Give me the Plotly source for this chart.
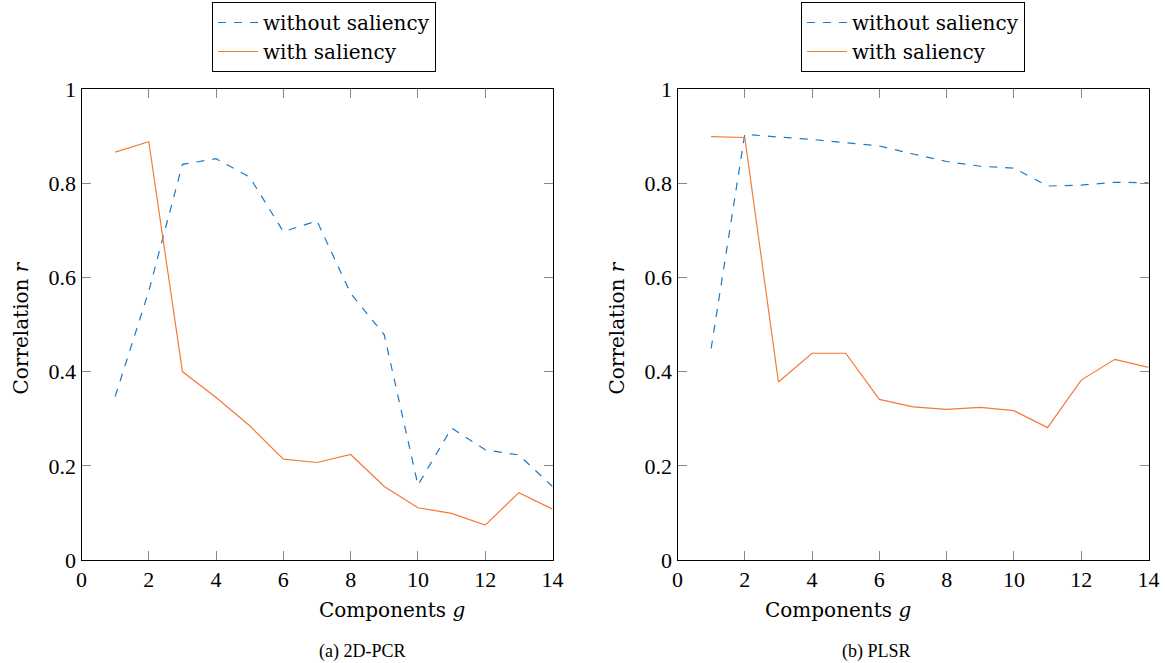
import plotly.graph_objects as go

components = list(range(1, 15))

pcr_without = [0.347, 0.571, 0.840, 0.852, 0.813, 0.697, 0.720, 0.566, 0.478, 0.159, 0.280, 0.234, 0.223, 0.156]
pcr_with = [0.866, 0.888, 0.400, 0.345, 0.285, 0.214, 0.207, 0.224, 0.156, 0.111, 0.099, 0.074, 0.143, 0.108]

plsr_without = [0.449, 0.904, 0.898, 0.893, 0.886, 0.879, 0.862, 0.846, 0.836, 0.832, 0.794, 0.796, 0.802, 0.801]
plsr_with = [0.899, 0.897, 0.378, 0.439, 0.439, 0.341, 0.325, 0.320, 0.324, 0.317, 0.281, 0.382, 0.426, 0.409]

x_ticks = [0, 2, 4, 6, 8, 10, 12, 14]
y_ticks = [0, 0.2, 0.4, 0.6, 0.8, 1]
y_ticklabels = ["0", "0.2", "0.4", "0.6", "0.8", "1"]
captions = ["(a) 2D-PCR", "(b) PLSR"]
x_title = "Components <i>g</i>"
y_title = "Correlation <i>r</i>"

BLUE = "#1f78c1"
ORANGE = "#f47a35"
FONT = "Times New Roman"
FONT_WIDE = "DejaVu Serif"

fig = go.Figure()

panels = [
    (pcr_without, pcr_with, "x", "y", "legend"),
    (plsr_without, plsr_with, "x2", "y2", "legend2"),
]
for wo, wi, xa, ya, lg in panels:
    fig.add_trace(go.Scatter(x=components, y=wo, mode="lines", name="without saliency",
                             line=dict(color=BLUE, width=1.2, dash="8px,8px"),
                             xaxis=xa, yaxis=ya, legend=lg))
    fig.add_trace(go.Scatter(x=components, y=wi, mode="lines", name="with saliency",
                             line=dict(color=ORANGE, width=1.2),
                             xaxis=xa, yaxis=ya, legend=lg))

W, H = 1165, 663
dom_left = [81.5 / W, 552.5 / W]
dom_right = [677.5 / W, 1148.5 / W]
dom_y = [1 - 560 / H, 1 - 89 / H]

axis_common = dict(
    showline=True, linecolor="black", linewidth=1, mirror="ticks",
    ticks="inside", ticklen=9, tickcolor="#888888", tickwidth=1,
    showgrid=False, zeroline=False, automargin=False,
    tickfont=dict(family=FONT, size=22, color="black"),
)

xaxis_common = dict(axis_common, range=[0, 14], tickvals=x_ticks)
yaxis_common = dict(axis_common, range=[0, 1], tickvals=y_ticks, ticktext=y_ticklabels)

legend_common = dict(
    bgcolor="white", bordercolor="black", borderwidth=1,
    font=dict(family=FONT_WIDE, size=20, color="black"),
    xanchor="center", yanchor="top", y=1 - 2 / H, yref="paper", xref="paper",
    itemwidth=40, tracegroupgap=0,
)

title_font = dict(family=FONT_WIDE, size=20, color="black")
cap_font = dict(family=FONT, size=18, color="black")

annotations = []
for dom, cap in [(dom_left, captions[0]), (dom_right, captions[1])]:
    cx = (dom[0] + dom[1]) / 2
    annotations.append(dict(text=x_title, x=cx, y=1 - 610 / H, xref="paper", yref="paper",
                            showarrow=False, font=title_font, yanchor="middle"))
    annotations.append(dict(text=cap, x=cx, y=1 - 651 / H, xref="paper", yref="paper",
                            showarrow=False, font=cap_font, yanchor="middle"))
    annotations.append(dict(text=y_title, x=dom[0] - 61 / W, y=1 - 328 / H, xref="paper", yref="paper",
                            showarrow=False, font=title_font, textangle=-90,
                            xanchor="center", yanchor="middle"))

fig.update_layout(
    width=W, height=H,
    margin=dict(l=0, r=0, t=0, b=0, autoexpand=False),
    paper_bgcolor="white", plot_bgcolor="white",
    showlegend=True,
    xaxis=dict(xaxis_common, domain=dom_left, anchor="y"),
    yaxis=dict(yaxis_common, domain=dom_y, anchor="x"),
    xaxis2=dict(xaxis_common, domain=dom_right, anchor="y2"),
    yaxis2=dict(yaxis_common, domain=dom_y, anchor="x2"),
    legend=dict(legend_common, x=324 / W),
    legend2=dict(legend_common, x=913 / W),
    annotations=annotations,
)

fig.write_html("out.html", config={"displayModeBar": False},
               post_script="document.body.style.margin='0px';")
